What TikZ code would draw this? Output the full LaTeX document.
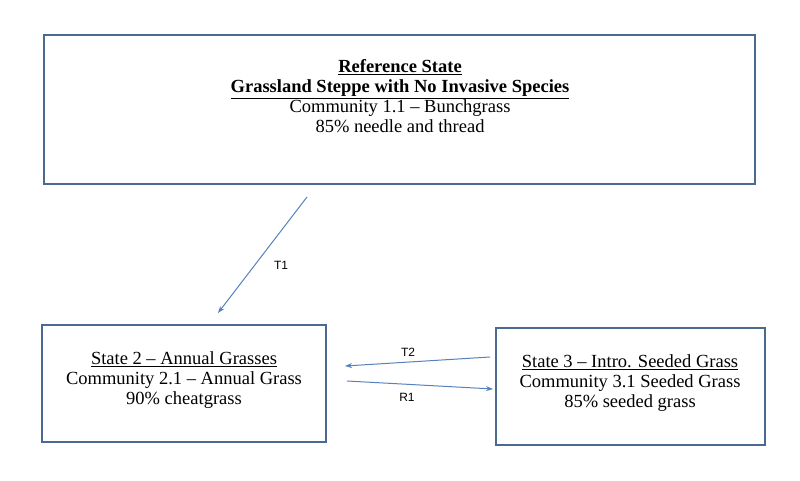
\documentclass[tikz,border=0pt]{standalone}
\usepackage{fontspec}
\setmainfont{Liberation Serif}
\newfontfamily\lblfont{Liberation Sans}
\usetikzlibrary{arrows.meta}
\definecolor{boxc}{RGB}{75,105,145}
\definecolor{arrc}{RGB}{85,130,190}
\tikzset{statebox/.style={draw=boxc,line width=1.6pt},
 txt/.style={align=center,font=\fontsize{18.5}{20}\selectfont},
 conn/.style={draw=arrc,line width=1pt,-{Stealth[length=7pt,width=5pt]}},
 lbl/.style={font=\lblfont\fontsize{12}{14}\selectfont}}
\begin{document}
\begin{tikzpicture}[x=1pt,y=-1pt]
\useasboundingbox (0,0) rectangle (800,481);
\fill[white] (0,0) rectangle (800,481);
\draw[statebox] (44,35) rectangle (755,184);
\draw[statebox] (42,325) rectangle (326,442);
\draw[statebox] (496,328) rectangle (765,445);
\node[txt] (top) at (400,96) {\underline{\textbf{Reference State}}\\\underline{\textbf{Grassland Steppe with No Invasive Species}}\\Community 1.1 -- Bunchgrass\\85\% needle and thread};
\node[txt] (s2) at (184,380) {\underline{State 2 -- Annual Grasses}\\Community 2.1 -- Annual Grass\\90\% cheatgrass};
\node[txt] (s3) at (630,383) {\underline{State 3 -- Intro. Seeded Grass}\\Community 3.1 Seeded Grass\\85\% seeded grass};
\coordinate (a1) at (307,197); \coordinate (b1) at (218,313);
\coordinate (a2) at (490,357); \coordinate (b2) at (345,366);
\coordinate (a3) at (347,381); \coordinate (b3) at (493,389);
\draw[conn] (a1) -- (b1);
\draw[conn] (a2) -- (b2);
\draw[conn] (a3) -- (b3);
\node[lbl] at (281,265) {T1};
\node[lbl] at (408,352) {T2};
\node[lbl] at (407,397) {R1};
\end{tikzpicture}
\end{document}
